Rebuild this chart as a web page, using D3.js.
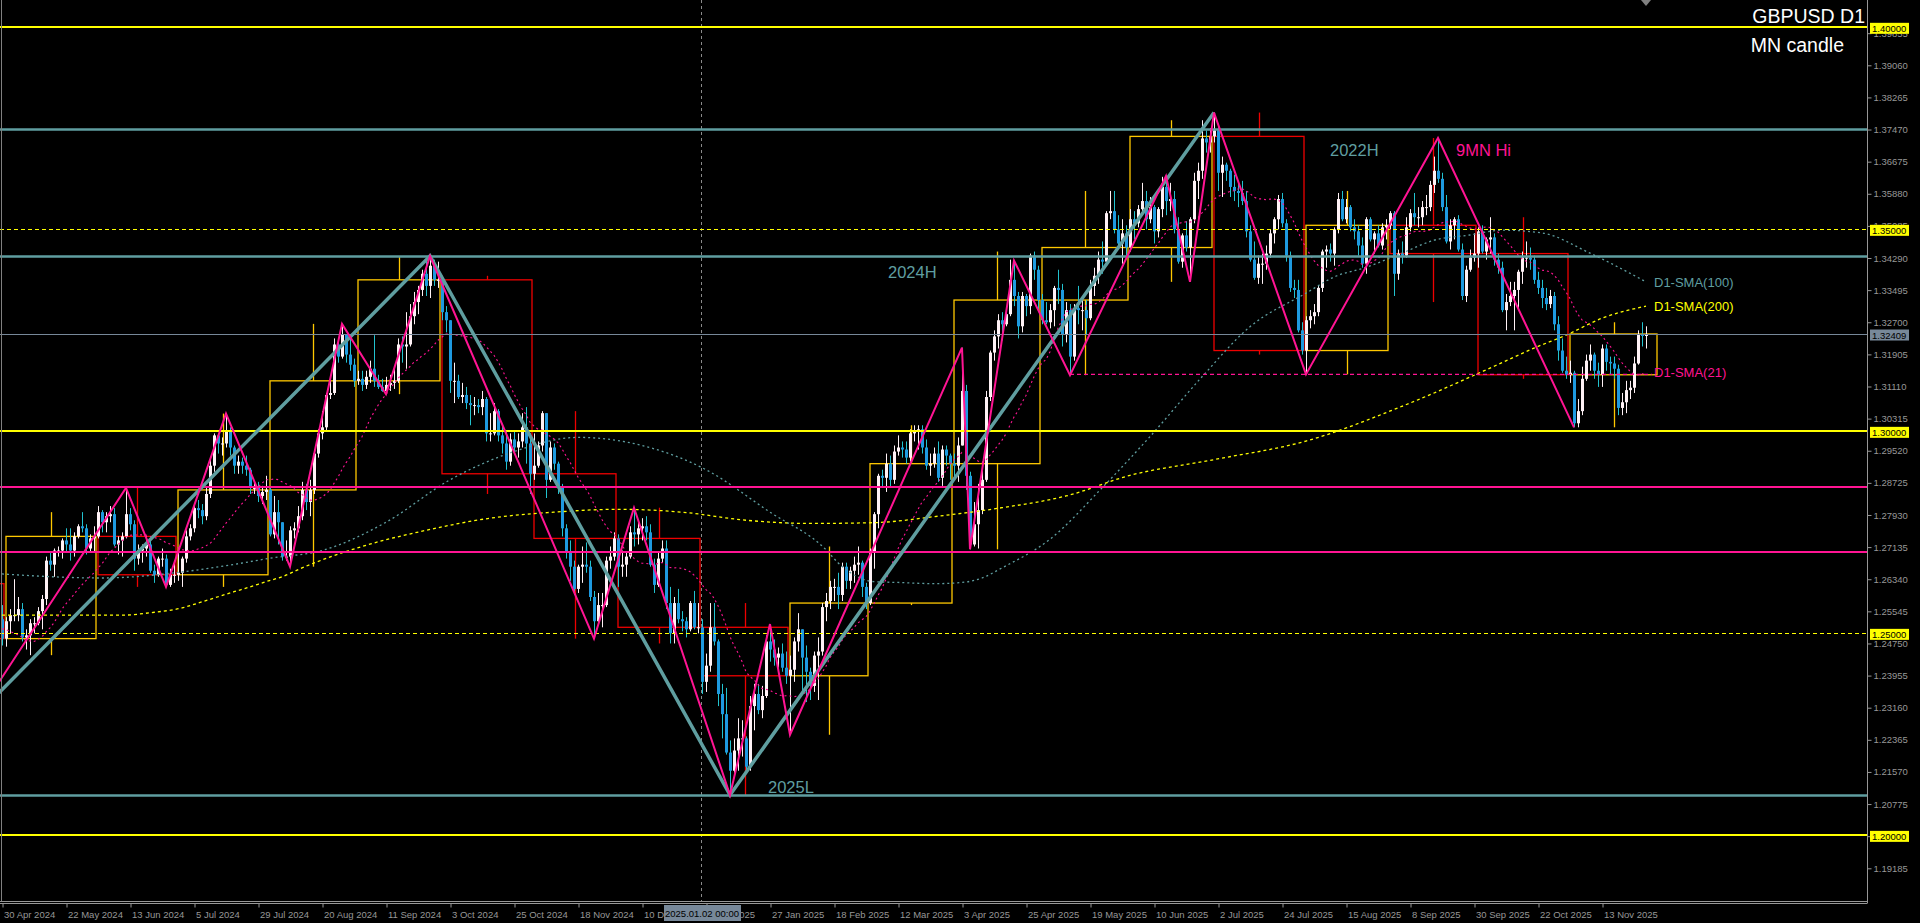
<!DOCTYPE html>
<html><head><meta charset="utf-8">
<script src="https://cdn.jsdelivr.net/npm/d3@7"></script>
<style>
html,body{margin:0;padding:0;background:#000;overflow:hidden;}
svg{display:block;}
text{font-family:"Liberation Sans",Arial,sans-serif;}
</style></head><body>
<svg id="chart" width="1920" height="923"></svg>
<script>
// ---------------- DATA ----------------
const symbolTitle = "GBPUSD D1";
const subTitle = "MN candle";
const startDate = "2024-04-30";
const skipDates = ["2024-12-25", "2025-01-01"];
// closes of the 20 sessions before the first bar (SMA21 warm-up)
const priorCloses = [1.2565,1.2645,1.2640,1.2635,1.2625,1.2675,1.2535,1.2555,1.2450,1.2445,1.2430,1.2455,1.2440,1.2370,1.2350,1.2450,1.2460,1.2495,1.2495,1.2535];
const firstOpen = 1.2535;
const closes = [
1.2487,
1.2530,1.2545,1.2545,1.2560,1.2490,1.2495,1.2525,1.2525,1.2555,1.2585,1.2680,1.2670,1.2705,1.2705,1.2730,1.2720,1.2705,1.2740,1.2765,1.2760,1.2710,1.2735,1.2740,
1.2800,1.2775,1.2790,1.2795,1.2720,1.2730,1.2740,1.2795,1.2770,1.2685,1.2705,1.2710,1.2720,1.2655,1.2645,1.2685,1.2685,1.2620,1.2645,1.2645,
1.2650,1.2685,1.2740,1.2760,1.2810,1.2805,1.2790,1.2845,1.2915,1.2990,1.2970,1.2970,1.3000,1.2960,1.2915,1.2925,1.2915,1.2905,1.2860,1.2860,1.2840,1.2850,1.2855,
1.2745,1.2800,1.2775,1.2690,1.2690,1.2755,1.2760,1.2790,1.2855,1.2825,1.2855,1.2945,1.2995,1.3010,1.3090,1.3095,1.3215,1.3185,1.3240,1.3190,1.3165,1.3125,
1.3130,1.3115,1.3135,1.3155,1.3125,1.3110,1.3100,1.3115,1.3120,1.3125,1.3215,1.3210,1.3215,1.3285,1.3320,1.3350,1.3390,1.3360,1.3410,1.3375,1.3375,
1.3295,1.3275,1.3125,1.3125,1.3085,1.3090,1.3070,1.3065,1.3065,1.3060,1.3080,1.2995,1.2995,1.3050,1.2990,1.2970,1.2925,1.2980,1.2960,1.2975,1.3010,1.2970,1.2895,
1.2915,1.2965,1.3045,1.2880,1.2960,1.2920,1.2860,1.2760,1.2700,1.2665,1.2610,1.2665,1.2670,1.2665,1.2590,1.2530,1.2570,1.2570,1.2680,1.2690,1.2735,
1.2665,1.2670,1.2690,1.2750,1.2745,1.2760,1.2765,1.2750,1.2670,1.2620,1.2685,1.2710,1.2575,1.2500,1.2575,1.2535,1.2530,1.2510,1.2575,1.2515,1.2515,
1.2380,1.2420,1.2515,1.2480,1.2350,1.2300,1.2205,1.2160,1.2210,1.2240,1.2240,1.2170,1.2320,1.2350,1.2310,1.2345,1.2480,1.2460,1.2440,1.2450,1.2415,1.2395,
1.2410,1.2480,1.2510,1.2440,1.2405,1.2370,1.2445,1.2455,1.2565,1.2580,1.2615,1.2615,1.2595,1.2665,1.2630,1.2655,1.2670,1.2675,1.2615,1.2575,
1.2700,1.2795,1.2890,1.2885,1.2920,1.2880,1.2950,1.2960,1.2955,1.2935,1.2995,1.3000,1.3005,1.2960,1.2915,1.2920,1.2945,1.2885,1.2955,1.2940,1.2920,
1.2915,1.2965,1.3100,1.2890,1.2720,1.2770,1.2805,1.2880,1.3085,1.3195,1.3235,1.3275,1.3265,1.3290,1.3375,1.3335,1.3260,1.3335,1.3310,1.3435,1.3400,1.3325,
1.3275,1.3270,1.3300,1.3355,1.3350,1.3240,1.3300,1.3185,1.3305,1.3300,1.3300,1.3280,1.3360,1.3385,1.3425,1.3420,1.3540,1.3545,1.3500,1.3465,1.3490,1.3455,
1.3525,1.3515,1.3550,1.3570,1.3525,1.3555,1.3495,1.3550,1.3605,1.3570,1.3575,1.3500,1.3420,1.3485,1.3455,1.3525,1.3620,1.3645,1.3725,1.3715,1.3730,
1.3745,1.3640,1.3660,1.3645,1.3605,1.3595,1.3590,1.3570,1.3495,1.3425,1.3380,1.3415,1.3415,1.3440,1.3490,1.3525,1.3575,1.3515,1.3435,1.3355,1.3350,1.3250,1.3200,
1.3275,1.3285,1.3295,1.3355,1.3445,1.3450,1.3440,1.3500,1.3575,1.3525,1.3555,1.3505,1.3495,1.3460,1.3415,1.3525,1.3475,1.3490,1.3460,1.3505,1.3510,
1.3540,1.3390,1.3440,1.3435,1.3505,1.3540,1.3530,1.3530,1.3555,1.3555,1.3610,1.3645,1.3625,1.3555,1.3470,1.3510,1.3525,1.3450,1.3335,1.3400,1.3430,1.3440,
1.3495,1.3445,1.3475,1.3480,1.3425,1.3405,1.3300,1.3320,1.3335,1.3350,1.3395,1.3430,1.3430,1.3425,1.3375,1.3355,1.3330,1.3315,1.3335,1.3265,1.3200,1.3150,1.3140,
1.3145,1.3020,1.3050,1.3130,1.3175,1.3190,1.3150,1.3140,1.3205,1.3172,1.3168,1.3155,1.3058,1.3072,1.3102,1.3108,1.3168,1.3240,1.3236,1.3241];
const highs = [
1.2570,
1.2540,1.2560,1.2634,1.2590,1.2575,1.2510,1.2535,1.2540,1.2565,1.2595,1.2690,1.2700,1.2710,1.2715,1.2735,1.2760,1.2760,1.2750,1.2770,1.2800,1.2770,1.2745,1.2765,
1.2815,1.2805,1.2800,1.2815,1.2810,1.2740,1.2750,1.2860,1.2810,1.2780,1.2720,1.2720,1.2740,1.2735,1.2670,1.2690,1.2710,1.2695,1.2660,1.2680,
1.2710,1.2690,1.2755,1.2770,1.2820,1.2830,1.2820,1.2860,1.2935,1.2995,1.2990,1.2985,1.3044,1.3010,1.2965,1.2940,1.2935,1.2940,1.2910,1.2875,1.2875,1.2865,1.2890,
1.2865,1.2840,1.2830,1.2775,1.2730,1.2765,1.2775,1.2815,1.2875,1.2870,1.2880,1.2955,1.3005,1.3050,1.3095,1.3130,1.3230,1.3225,1.3266,1.3240,1.3230,1.3180,
1.3150,1.3150,1.3150,1.3175,1.3238,1.3140,1.3130,1.3135,1.3140,1.3160,1.3230,1.3235,1.3295,1.3315,1.3345,1.3360,1.3400,1.3425,1.3434,1.3425,1.3420,
1.3385,1.3310,1.3275,1.3170,1.3140,1.3120,1.3110,1.3090,1.3085,1.3080,1.3100,1.3085,1.3045,1.3070,1.3055,1.3015,1.3000,1.2995,1.3000,1.2995,1.3045,1.3060,1.2995,
1.2995,1.2975,1.3050,1.3045,1.2975,1.2970,1.2925,1.2870,1.2770,1.2730,1.2680,1.2670,1.2715,1.2725,1.2680,1.2605,1.2600,1.2600,1.2690,1.2715,1.2750,
1.2745,1.2705,1.2700,1.2765,1.2811,1.2780,1.2785,1.2790,1.2770,1.2685,1.2700,1.2730,1.2730,1.2615,1.2590,1.2610,1.2555,1.2540,1.2580,1.2605,1.2575,
1.2535,1.2450,1.2575,1.2575,1.2485,1.2375,1.2365,1.2235,1.2240,1.2290,1.2285,1.2245,1.2345,1.2375,1.2375,1.2370,1.2495,1.2523,1.2485,1.2465,1.2475,1.2455,
1.2445,1.2490,1.2550,1.2510,1.2470,1.2415,1.2455,1.2490,1.2575,1.2600,1.2630,1.2635,1.2650,1.2675,1.2675,1.2665,1.2690,1.2715,1.2680,1.2625,
1.2710,1.2800,1.2895,1.2905,1.2945,1.2940,1.2965,1.2990,1.2975,1.2975,1.3005,1.3015,1.3015,1.3015,1.2980,1.2945,1.2960,1.2975,1.2965,1.2965,1.2945,
1.2945,1.2985,1.3207,1.3115,1.2900,1.2825,1.2870,1.2925,1.3100,1.3200,1.3250,1.3290,1.3295,1.3300,1.3425,1.3423,1.3345,1.3345,1.3340,1.3440,1.3445,1.3410,
1.3340,1.3320,1.3315,1.3360,1.3400,1.3365,1.3320,1.3315,1.3315,1.3360,1.3335,1.3325,1.3375,1.3405,1.3445,1.3470,1.3545,1.3595,1.3595,1.3535,1.3525,1.3510,
1.3550,1.3545,1.3560,1.3615,1.3595,1.3580,1.3560,1.3555,1.3630,1.3632,1.3615,1.3595,1.3530,1.3490,1.3520,1.3530,1.3640,1.3665,1.3770,1.3745,1.3750,
1.3789,1.3755,1.3680,1.3665,1.3650,1.3635,1.3620,1.3620,1.3595,1.3510,1.3470,1.3435,1.3440,1.3460,1.3500,1.3530,1.3585,1.3590,1.3525,1.3445,1.3375,1.3375,1.3270,
1.3285,1.3300,1.3315,1.3360,1.3450,1.3460,1.3465,1.3505,1.3590,1.3595,1.3575,1.3560,1.3525,1.3510,1.3480,1.3530,1.3530,1.3495,1.3510,1.3515,1.3525,
1.3545,1.3545,1.3450,1.3470,1.3530,1.3550,1.3590,1.3555,1.3570,1.3585,1.3620,1.3680,1.3726,1.3640,1.3585,1.3525,1.3530,1.3535,1.3465,1.3410,1.3450,1.3490,
1.3505,1.3510,1.3480,1.3530,1.3490,1.3440,1.3420,1.3340,1.3370,1.3370,1.3400,1.3445,1.3470,1.3455,1.3435,1.3395,1.3375,1.3355,1.3350,1.3345,1.3285,1.3230,1.3185,
1.3175,1.3150,1.3080,1.3160,1.3190,1.3215,1.3195,1.3170,1.3215,1.3215,1.3185,1.3185,1.3165,1.3095,1.3125,1.3125,1.3185,1.3250,1.3270,1.3260];
const lows = [
1.2470,
1.2467,1.2500,1.2530,1.2530,1.2480,1.2460,1.2446,1.2500,1.2520,1.2510,1.2570,1.2655,1.2640,1.2690,1.2685,1.2700,1.2680,1.2690,1.2735,1.2750,1.2695,1.2700,1.2700,
1.2735,1.2750,1.2750,1.2775,1.2715,1.2695,1.2690,1.2735,1.2755,1.2655,1.2670,1.2675,1.2690,1.2650,1.2625,1.2640,1.2665,1.2615,1.2615,1.2625,
1.2630,1.2615,1.2675,1.2730,1.2750,1.2785,1.2770,1.2780,1.2835,1.2900,1.2945,1.2940,1.2960,1.2940,1.2895,1.2895,1.2895,1.2890,1.2845,1.2845,1.2825,1.2820,1.2830,
1.2740,1.2735,1.2720,1.2680,1.2680,1.2665,1.2735,1.2750,1.2780,1.2805,1.2790,1.2845,1.2935,1.2980,1.3000,1.3080,1.3090,1.3170,1.3180,1.3170,1.3150,1.3110,
1.3115,1.3100,1.3105,1.3120,1.3110,1.3105,1.3098,1.3092,1.3100,1.3105,1.3120,1.3170,1.3155,1.3210,1.3265,1.3290,1.3335,1.3335,1.3330,1.3360,1.3355,
1.3275,1.3245,1.3095,1.3070,1.3080,1.3070,1.3055,1.3015,1.3040,1.3045,1.3040,1.2975,1.2975,1.2990,1.2975,1.2945,1.2905,1.2915,1.2945,1.2935,1.2960,1.2920,1.2845,
1.2880,1.2910,1.2950,1.2835,1.2875,1.2905,1.2845,1.2740,1.2685,1.2630,1.2595,1.2600,1.2625,1.2650,1.2580,1.2487,1.2525,1.2515,1.2565,1.2660,1.2680,
1.2615,1.2640,1.2640,1.2685,1.2715,1.2720,1.2730,1.2730,1.2665,1.2600,1.2615,1.2675,1.2560,1.2475,1.2475,1.2525,1.2505,1.2490,1.2505,1.2510,1.2500,
1.2350,1.2355,1.2405,1.2470,1.2320,1.2240,1.2200,1.2100,1.2155,1.2160,1.2195,1.2160,1.2160,1.2260,1.2300,1.2290,1.2340,1.2430,1.2420,1.2415,1.2405,1.2375,
1.2249,1.2380,1.2455,1.2355,1.2330,1.2335,1.2355,1.2335,1.2445,1.2530,1.2560,1.2580,1.2560,1.2580,1.2610,1.2610,1.2625,1.2645,1.2590,1.2560,
1.2570,1.2660,1.2760,1.2860,1.2850,1.2860,1.2870,1.2940,1.2935,1.2920,1.2925,1.2975,1.2955,1.2945,1.2905,1.2890,1.2910,1.2875,1.2865,1.2915,1.2880,
1.2880,1.2875,1.2965,1.2855,1.2708,1.2715,1.2710,1.2795,1.2875,1.3075,1.3175,1.3205,1.3225,1.3260,1.3285,1.3310,1.3230,1.3245,1.3285,1.3290,1.3375,1.3295,
1.3265,1.3265,1.3255,1.3260,1.3315,1.3210,1.3220,1.3139,1.3175,1.3265,1.3250,1.3240,1.3275,1.3335,1.3365,1.3390,1.3410,1.3525,1.3490,1.3455,1.3415,1.3435,
1.3445,1.3475,1.3505,1.3535,1.3500,1.3515,1.3465,1.3480,1.3530,1.3535,1.3545,1.3490,1.3415,1.3405,1.3445,1.3370,1.3515,1.3575,1.3625,1.3690,1.3690,
1.3715,1.3595,1.3580,1.3620,1.3580,1.3570,1.3555,1.3560,1.3480,1.3420,1.3375,1.3365,1.3365,1.3400,1.3430,1.3465,1.3500,1.3505,1.3420,1.3345,1.3330,1.3245,1.3190,
1.3141,1.3255,1.3265,1.3285,1.3345,1.3405,1.3420,1.3410,1.3490,1.3520,1.3515,1.3495,1.3475,1.3435,1.3405,1.3390,1.3470,1.3440,1.3455,1.3450,1.3475,
1.3500,1.3335,1.3375,1.3415,1.3430,1.3495,1.3510,1.3505,1.3510,1.3535,1.3545,1.3590,1.3615,1.3545,1.3465,1.3450,1.3475,1.3445,1.3325,1.3320,1.3395,1.3420,
1.3405,1.3440,1.3425,1.3440,1.3410,1.3390,1.3295,1.3250,1.3310,1.3250,1.3300,1.3365,1.3405,1.3400,1.3365,1.3340,1.3305,1.3300,1.3305,1.3250,1.3175,1.3145,1.3130,
1.3120,1.3010,1.3010,1.3040,1.3125,1.3150,1.3130,1.3110,1.3110,1.3150,1.3140,1.3130,1.3040,1.3040,1.3045,1.3080,1.3095,1.3165,1.3210,1.3205];
// April 2024 monthly candle (only its last day is on screen): open, high, low, close
const firstMonthOHLC = [1.2623, 1.2709, 1.2300, 1.2487];
const firstMonthBars = 22;
// SMA(100) and SMA(200): [bar index, price]
const sma100Pts = [[0,1.2647],[25,1.2637],[45,1.2652],[57,1.2669],[67,1.2686],[80,1.2705],[96,1.2775],[112,1.2880],[128,1.2950],[144,1.2985],[160,1.2965],[176,1.2905],[192,1.2800],[206,1.2707],[209,1.2675],[218,1.2628],[224,1.2626],[233,1.2623],[240,1.2626],[245,1.2637],[250,1.2662],[262,1.2733],[275,1.2860],[287,1.2987],[300,1.3135],[312,1.3259],[326,1.3342],[333,1.3382],[341,1.3406],[350,1.3441],[358,1.3473],[367,1.3486],[375,1.3498],[385,1.3491],[397,1.3441],[411,1.3370]];
const sma200Pts = [[0,1.2545],[30,1.2545],[37,1.2551],[45,1.2563],[50,1.2578],[58,1.2603],[62,1.2615],[66,1.2628],[70,1.2640],[75,1.2662],[90,1.2715],[106,1.2755],[122,1.2785],[138,1.2800],[154,1.2807],[170,1.2800],[186,1.2780],[202,1.2772],[218,1.2774],[234,1.2790],[250,1.2811],[266,1.2840],[282,1.2891],[303,1.2930],[326,1.2976],[350,1.3062],[375,1.3170],[383,1.3206],[391,1.3238],[400,1.3280],[411,1.3310]];
// ZigZag swing points: [bar index, price]
const zigTeal = [[-6,1.2300],[107,1.3434],[182,1.2100],[303,1.3789]];
const zigPink = [[-6,1.2300],[31,1.2860],[41,1.2615],[56,1.3044],[72,1.2665],[85,1.3266],[96,1.3092],[107,1.3434],[148,1.2487],[158,1.2811],[182,1.2100],[192,1.2523],[197,1.2249],[240,1.3207],[242,1.2708],[253,1.3423],[267,1.3139],[291,1.3632],[297,1.3370],[303,1.3789],[326,1.3141],[359,1.3726],[393,1.3010]];
// Horizontal levels
const levelsYellow = [1.40, 1.30, 1.20];
const levelsYellowDash = [1.35, 1.25];
const levelsPink = [1.2863, 1.2702];
const levelsTeal = [1.3748, 1.3434, 1.2100];
const supportLevel = [267, 1.3141];
const currentPrice = 1.32409;
// level labels: [text, bar index, price at baseline, colour key]
const levelTexts = [["2022H",332,1.3682,"teal"],["9MN Hi",363.5,1.3682,"pink"],["2024H",221.5,1.3379,"teal"],["2025L",191.5,1.2106,"teal"]];
// Axis tick labels
const priceTicks = [1.19185,1.19980,1.20775,1.21570,1.22365,1.23160,1.23955,1.24750,1.25545,1.26340,1.27135,1.27930,1.28725,1.29520,1.30315,1.31110,1.31905,1.32700,1.33495,1.34290,1.35085,1.35880,1.36675,1.37470,1.38265,1.39060,1.39855];
const dateTickLabels = ["30 Apr 2024","22 May 2024","13 Jun 2024","5 Jul 2024","29 Jul 2024","20 Aug 2024","11 Sep 2024","3 Oct 2024","25 Oct 2024","18 Nov 2024","10 Dec 2024","3 Jan 2025","27 Jan 2025","18 Feb 2025","12 Mar 2025","3 Apr 2025","25 Apr 2025","19 May 2025","10 Jun 2025","2 Jul 2025","24 Jul 2025","15 Aug 2025","8 Sep 2025","30 Sep 2025","22 Oct 2025","13 Nov 2025"];
const crosshairDate = "2025-01-02";
const crosshairLabel = "2025.01.02 00:00";
const smaLabels = ["D1-SMA(21)","D1-SMA(100)","D1-SMA(200)"];

// ---------------- STYLE ----------------
const C = {bg:"#000", axis:"#979797", bull:"#fff2f6", bear:"#1e9ae0", bearWick:"#22c3cf",
  teal:"#5f9ea0", pink:"#ff1493", yellow:"#ffff00", mnUp:"#ffc800", mnDown:"#ee0000", gray:"#778899"};

// ---------------- BUILD ----------------
const n = closes.length;
const opens = closes.map((c,i)=> i===0 ? firstOpen : closes[i-1]);
const dates = [];
{ let d = new Date(startDate+"T00:00:00Z");
  while (dates.length < n) { const wd=d.getUTCDay(), iso=d.toISOString().slice(0,10);
    if (wd>0 && wd<6 && !skipDates.includes(iso)) dates.push(iso);
    d.setUTCDate(d.getUTCDate()+1); } }

const plotR = 1867, plotB = 901;
const x = d3.scaleLinear().domain([0, n-1]).range([2, 2 + 4*(n-1)]);
const y = d3.scaleLinear().domain([1.184004, 1.406762]).range([900, 0]);

const svg = d3.select("#chart");
svg.append("rect").attr("width",1920).attr("height",923).attr("fill",C.bg);
svg.append("defs").append("clipPath").attr("id","plot").append("rect").attr("x",0).attr("y",0).attr("width",plotR).attr("height",plotB);
const g = svg.append("g").attr("clip-path","url(#plot)");

// crosshair vertical dashed line
const chIdx = dates.indexOf(crosshairDate);
g.append("line").attr("x1",x(chIdx)-0.5).attr("x2",x(chIdx)-0.5).attr("y1",0).attr("y2",plotB)
  .attr("stroke","#8a8a8a").attr("stroke-width",1).attr("stroke-dasharray","3,3");

// monthly candles
const months = d3.groups(d3.range(n), i=>dates[i].slice(0,7)).map(([m,idx],k,arr)=>{
  const f=idx[0], l=idx[idx.length-1];
  return {f, l, o:opens[f], c:closes[l], h:d3.max(idx,i=>highs[i]), lo:d3.min(idx,i=>lows[i]), last:k===arr.length-1};
});
months[0].f = months[0].l - (firstMonthBars-1);
months[0].o = firstMonthOHLC[0]; months[0].h = firstMonthOHLC[1]; months[0].lo = firstMonthOHLC[2];
const mg = g.append("g");
months.forEach(mo=>{
  const left = x(mo.f), right = mo.last ? x(mo.l)+11 : x(mo.l+1)-2;
  const col = mo.c >= mo.o ? C.mnUp : C.mnDown;
  const top = y(Math.max(mo.o,mo.c)), bot = y(Math.min(mo.o,mo.c));
  const cx = Math.round((left+right)/2)+0.5;
  mg.append("rect").attr("x",left).attr("y",top).attr("width",right-left).attr("height",Math.max(1,bot-top))
    .attr("fill","none").attr("stroke",col).attr("stroke-width",1.3);
  mg.append("line").attr("x1",cx).attr("x2",cx).attr("y1",y(mo.h)).attr("y2",top).attr("stroke",col).attr("stroke-width",1.3);
  mg.append("line").attr("x1",cx).attr("x2",cx).attr("y1",bot).attr("y2",y(mo.lo)).attr("stroke",col).attr("stroke-width",1.3);
});

// candles
const cg = g.append("g");
d3.range(n).forEach(i=>{
  const o=opens[i], c=closes[i], bull=c>=o;
  const hi=Math.max(highs[i],o,c), lo=Math.min(lows[i],o,c);
  const cx=x(i)+0.5;
  cg.append("line").attr("x1",cx).attr("x2",cx).attr("y1",y(hi)).attr("y2",y(lo))
    .attr("stroke", bull?C.bull:C.bearWick).attr("stroke-width",1);
  const t=y(Math.max(o,c)), b=y(Math.min(o,c));
  cg.append("rect").attr("x",x(i)-1).attr("y",t).attr("width",3).attr("height",Math.max(1,b-t))
    .attr("fill", bull?C.bull:C.bear);
});

// SMAs
const allC = priorCloses.concat(closes);
const sma21 = closes.map((_,i)=>d3.mean(allC.slice(i,i+21)));
const lineIdx = d3.line().x(d=>x(d[0])).y(d=>y(d[1]));
g.append("path").datum(sma200Pts).attr("d",lineIdx.curve(d3.curveMonotoneX)).attr("fill","none")
  .attr("stroke",C.yellow).attr("stroke-width",1.3).attr("stroke-dasharray","3,3");
g.append("path").datum(sma100Pts).attr("d",lineIdx.curve(d3.curveMonotoneX)).attr("fill","none")
  .attr("stroke",C.teal).attr("stroke-width",1.3).attr("stroke-dasharray","2,3");
g.append("path").datum(sma21.map((v,i)=>[i,v])).attr("d",lineIdx.curve(d3.curveLinear)).attr("fill","none")
  .attr("stroke",C.pink).attr("stroke-width",1.1).attr("stroke-dasharray","2,3");

// horizontal levels
const hl = (p,col,w,dash)=>{ const yy=Math.round(y(p))+(w%2?0.5:0);
  const ln=g.append("line").attr("x1",0).attr("x2",plotR).attr("y1",yy).attr("y2",yy).attr("stroke",col).attr("stroke-width",w);
  if(dash) ln.attr("stroke-dasharray",dash); };
levelsYellowDash.forEach(p=>hl(p,C.yellow,1,"4,3"));
hl(currentPrice,C.gray,1);
levelsYellow.forEach(p=>hl(p,C.yellow,2));
levelsPink.forEach(p=>hl(p,C.pink,2));
levelsTeal.forEach(p=>hl(p,C.teal,2.6));
// support dashed line
g.append("line").attr("x1",x(supportLevel[0])).attr("x2",x(n-1)+6).attr("y1",y(supportLevel[1])).attr("y2",y(supportLevel[1]))
  .attr("stroke",C.pink).attr("stroke-width",1.3).attr("stroke-dasharray","4,3");

// zigzags
g.append("path").datum(zigTeal).attr("d",lineIdx.curve(d3.curveLinear)).attr("fill","none")
  .attr("stroke",C.teal).attr("stroke-width",3.5).attr("stroke-linejoin","miter");
g.append("path").datum(zigPink).attr("d",lineIdx.curve(d3.curveLinear)).attr("fill","none")
  .attr("stroke",C.pink).attr("stroke-width",2);

// texts on chart
levelTexts.forEach(([t,i,p,c])=>{
  g.append("text").attr("x",x(i)).attr("y",y(p)).attr("fill",c==="teal"?C.teal:C.pink)
    .attr("font-size","16.5px").text(t);
});
const smaLast = [sma21[n-1], sma100Pts[sma100Pts.length-1][1], sma200Pts[sma200Pts.length-1][1]];
const smaCols = [C.pink, C.teal, C.yellow];
smaLabels.forEach((t,k)=>{
  g.append("text").attr("x",x(n-1)+8).attr("y",y(smaLast[k])+5).attr("fill",smaCols[k]).attr("font-size","13px").text(t);
});

// shift marker
svg.append("path").attr("d",`M${x(n-1)-5},0 L${x(n-1)+5},0 L${x(n-1)},6 Z`).attr("fill","#808080");

// titles
svg.append("text").attr("x",1865).attr("y",23).attr("text-anchor","end").attr("fill","#fff").attr("font-size","19.5px").text(symbolTitle);
svg.append("text").attr("x",1844).attr("y",52).attr("text-anchor","end").attr("fill","#fff").attr("font-size","19.5px").text(subTitle);

// left border
svg.append("line").attr("x1",1.5).attr("x2",1.5).attr("y1",0).attr("y2",plotB).attr("stroke","#808080");

// right price axis
const yAxis = d3.axisRight(y).tickValues(priceTicks).tickFormat(d3.format(".5f")).tickSize(4).tickSizeOuter(0).tickPadding(2);
const ya = svg.append("g").attr("transform",`translate(${plotR+0.5},0)`).call(yAxis);
ya.select(".domain").attr("stroke",C.axis).attr("d","M0,0V903");
ya.selectAll(".tick line").attr("stroke",C.axis);
ya.selectAll(".tick text").attr("fill",C.axis).attr("font-size","9.5px").attr("font-family","Liberation Sans, Arial");

// price highlight labels
const tagPrices = [[1.40,C.yellow],[1.35,C.yellow],[1.30,C.yellow],[1.25,C.yellow],[1.20,C.yellow],[currentPrice,C.gray]];
tagPrices.forEach(([p,col])=>{
  const yy=y(p);
  svg.append("rect").attr("x",plotR+3).attr("y",yy-4.5).attr("width",39).attr("height",11).attr("fill",col);
  svg.append("text").attr("x",plotR+5).attr("y",yy+4.5).attr("fill","#000").attr("font-size","9.5px").text(d3.format(".5f")(p));
});

// bottom date axis
svg.append("line").attr("x1",0).attr("x2",plotR).attr("y1",plotB+0.5).attr("y2",plotB+0.5).attr("stroke",C.axis);
const parseD = d3.timeParse("%d %b %Y"), fmtL = d3.timeFormat("%Y-%m-%d");
const tickIdx = dateTickLabels.map(s=>dates.indexOf(fmtL(parseD(s))));
const xAxis = d3.axisBottom(x).tickValues(tickIdx).tickFormat((d,i)=>dateTickLabels[i]).tickSize(4).tickSizeOuter(0);
const xa = svg.append("g").attr("transform",`translate(0.5,${plotB+2.5})`).call(xAxis);
xa.select(".domain").attr("stroke",C.axis).attr("d",`M-0.5,0H${plotR}`);
xa.selectAll(".tick line").attr("stroke",C.axis);
xa.selectAll(".tick text").attr("fill",C.axis).attr("font-size","9.5px").attr("text-anchor","start")
  .attr("x",1).attr("y",14).attr("dy","0");

// crosshair date label
const chx = x(chIdx);
svg.append("rect").attr("x",chx-38).attr("y",905).attr("width",77).attr("height",16).attr("fill",C.gray);
svg.append("text").attr("x",chx).attr("y",917).attr("text-anchor","middle").attr("fill","#000").attr("font-size","9.5px").text(crosshairLabel);
</script>
</body></html>
